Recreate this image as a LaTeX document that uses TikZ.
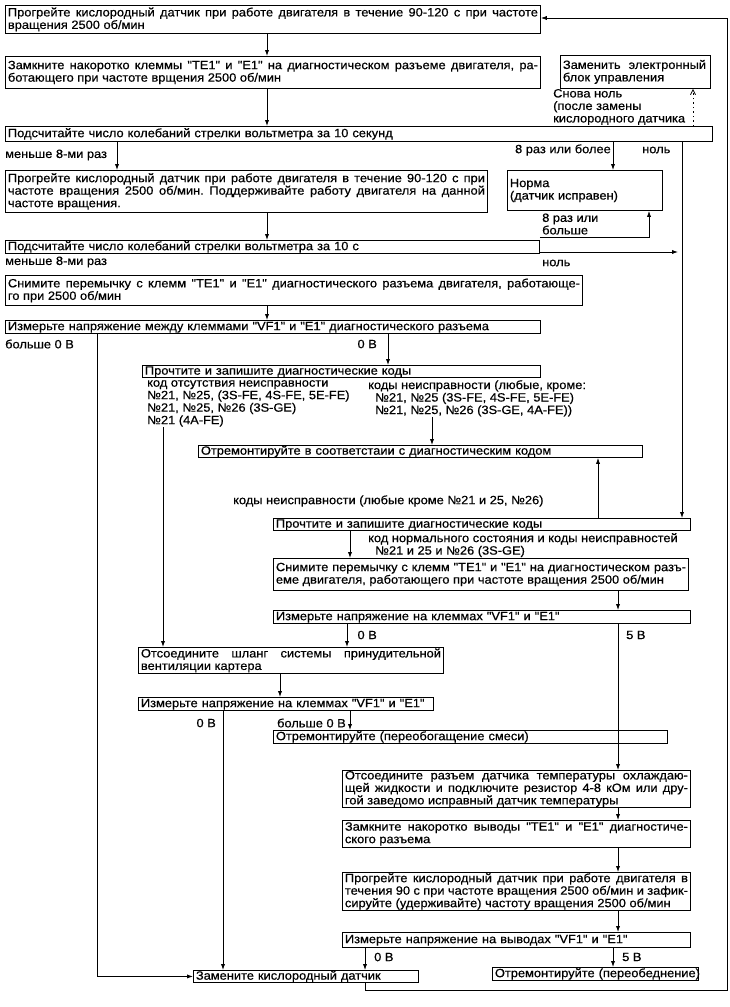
\documentclass[tikz,border=0pt]{standalone}
\usepackage{fontspec}
\setmainfont{Liberation Sans}[FakeStretch=1.07,FakeBold=0.5,Ligatures=TeXOff]
\usetikzlibrary{arrows.meta}
\newcommand\fs{\fontsize{12}{12.5}\selectfont\frenchspacing\hyphenpenalty=10000\exhyphenpenalty=10000}
\begin{document}
\begin{tikzpicture}[x=1pt,y=-1pt,
  box/.style={draw,line width=0.9pt,anchor=north west,inner xsep=2.5pt,inner ysep=0pt,align=left,font=\fs},
  jbox/.style={box,align=justify},
  one/.style={text height=8.8pt,text depth=2.4pt},
  lbl/.style={font=\fs,inner sep=0pt,align=left},
  ln/.style={line width=0.8pt},
  arr/.style={ln,-{Latex[length=6pt,width=4.2pt]}},
  darr/.style={line width=0.8pt,dash pattern=on 1.5pt off 3pt,-{Straight Barb[length=5pt,width=5pt]}}]
\useasboundingbox[fill=white] (0,0) rectangle (730,1007);
% columns
\coordinate (cA) at (267,0);
\coordinate (cB) at (117,0);
\coordinate (cC) at (613,0);
\coordinate (cD) at (682,0);
\coordinate (cE) at (693,0);
\coordinate (cN2) at (649,0);
\coordinate (cF) at (97,0);
\coordinate (cG) at (388,0);
\coordinate (cH) at (163,0);
\coordinate (cI) at (432,0);
\coordinate (cJ) at (598,0);
\coordinate (cK) at (350,0);
\coordinate (cL) at (618,0);
\coordinate (cM) at (347,0);
\coordinate (cN) at (280,0);
\coordinate (cO) at (223,0);
\coordinate (cP) at (350,0);
\coordinate (cQ) at (365,0);
\coordinate (cR) at (613,0);
% boxes
\node[jbox,text width=530pt,minimum width=535pt,minimum height=28pt] (b1) at (5,5)
 {Прогрейте кислородный датчик при работе двигателя в течение 90-120 с при частоте\linebreak вращения 2500 об/мин};
\node[jbox,text width=530pt,minimum width=535pt,minimum height=32pt] (b2) at (5,56)
 {Замкните накоротко клеммы "TE1" и "E1" на диагностическом разъеме двигателя, ра-\linebreak ботающего при частоте врщения 2500 об/мин};
\node[box,text width=145pt,minimum width=150pt,minimum height=33pt] (ecu) at (560,55)
 {Заменить\ \ электронный\\блок управления};
\node[box,one,text width=702pt,minimum width=707pt,minimum height=15pt] (b3) at (5,126)
 {Подсчитайте число колебаний стрелки вольтметра за 10 секунд};
\node[jbox,text width=477pt,minimum width=482pt,minimum height=42pt] (b4) at (5,170)
 {Прогрейте кислородный датчик при работе двигателя в течение 90-120 с при\linebreak частоте вращения 2500 об/мин. Поддерживайте работу двигателя на данной\linebreak частоте вращения.};
\node[box,text width=150pt,minimum width=155pt,minimum height=40pt] (norma) at (507,170)
 {Норма\\(датчик исправен)};
\node[box,one,text width=529pt,minimum width=534pt,minimum height=13pt] (b5) at (5,240)
 {Подсчитайте число колебаний стрелки вольтметра за 10 с};
\node[jbox,text width=572pt,minimum width=577pt,minimum height=30pt] (b6) at (5,275)
 {Снимите перемычку с клемм "TE1" и "E1" диагностического разъема двигателя, работающе-\linebreak го при 2500 об/мин};
\node[box,one,text width=530pt,minimum width=535pt,minimum height=13pt] (b7) at (5,320)
 {Измерьте напряжение между клеммами "VF1" и "E1" диагностического разъема};
\node[box,one,text width=393pt,minimum width=398pt,minimum height=12pt] (b8) at (142,365)
 {Прочтите и запишите диагностические коды};
\node[box,one,text width=439pt,minimum width=444pt,minimum height=12pt] (b9) at (198,445)
 {Отремонтируйте в соответстаии с диагностическим кодом};
\node[box,one,text width=412pt,minimum width=417pt,minimum height=12pt] (b10) at (273,518)
 {Прочтите и запишите диагностические коды};
\node[jbox,text width=410pt,minimum width=415pt,minimum height=32pt] (b11) at (273,558)
 {Снимите перемычку с клемм "TE1" и "E1" на диагностическом разъ-\linebreak еме двигателя, работающего при частоте вращения 2500 об/мин};
\node[box,one,text width=412pt,minimum width=417pt,minimum height=13pt] (b12) at (273,610)
 {Измерьте напряжение на клеммах "VF1" и "E1"};
\node[jbox,text width=300pt,minimum width=305pt,minimum height=26pt] (b13) at (138,647)
 {Отсоедините шланг системы принудительной\linebreak вентиляции картера};
\node[box,one,text width=290pt,minimum width=295pt,minimum height=13pt] (b14) at (138,697)
 {Измерьте напряжение на клеммах "VF1" и "E1"};
\node[box,one,text width=389pt,minimum width=394pt,minimum height=13pt] (b15) at (273,730)
 {Отремонтируйте (переобогащение смеси)};
\node[jbox,text width=343pt,minimum width=348pt,minimum height=37pt] (b16) at (342,770)
 {Отсоедините разъем датчика температуры охлаждаю-\linebreak щей жидкости и подключите резистор 4-8 кОм или дру-\linebreak гой заведомо исправный датчик температуры};
\node[jbox,text width=343pt,minimum width=348pt,minimum height=27pt] (b17) at (342,820)
 {Замкните накоротко выводы "TE1" и "E1" диагностиче-\linebreak ского разъема};
\node[jbox,text width=343pt,minimum width=348pt,minimum height=38pt] (b18) at (342,872)
 {Прогрейте кислородный датчик при работе двигателя в\linebreak течения 90 с при частоте вращения 2500 об/мин и зафик-\linebreak сируйте (удерживайте) частоту вращения 2500 об/мин};
\node[box,one,text width=343pt,minimum width=348pt,minimum height=15pt] (b19) at (342,932)
 {Измерьте напряжение на выводах "VF1" и "E1"};
\node[box,one,text width=220pt,minimum width=225pt,minimum height=12pt] (b20) at (193,970)
 {\mbox{Замените кислородный датчик}};
\node[box,one,text width=201pt,minimum width=206pt,minimum height=13pt] (b21) at (492,967)
 {\mbox{Отремонтируйте (переобеднение)}};
% labels
\node[lbl,anchor=west] (l1) at (5,155) {меньше 8-ми раз};
\node[lbl,anchor=west] (l2) at (553,107) {Снова ноль\\(после замены\\кислородного датчика};
\node[lbl,anchor=east] (l3) at (611,150) {8 раз или более};
\node[lbl,anchor=west] (l4) at (642,150) {ноль};
\node[lbl,anchor=west] (l5) at (542,224) {8 раз или\\больше};
\node[lbl,anchor=west] (l6) at (542,263) {ноль};
\node[lbl,anchor=west] (l7) at (5,262) {меньше 8-ми раз};
\node[lbl,anchor=west] (l8) at (5,344) {больше 0 В};
\node[lbl,anchor=east] (l9) at (377,344) {0 В};
\node[lbl,anchor=north west] (t8l) at (147,380) {код отсутствия неисправности\\№21, №25, (3S-FE, 4S-FE, 5E-FE)\\№21, №25, №26 (3S-GE)\\№21 (4A-FE)};
\node[lbl,anchor=north west] (t8r) at (368,380) {коды неисправности (любые, кроме:\\\hspace*{7pt}№21, №25 (3S-FE, 4S-FE, 5E-FE)\\\hspace*{7pt}№21, №25, №26 (3S-GE, 4A-FE))};
\node[lbl,anchor=west] (l10) at (233,501) {коды неисправности (любые кроме №21 и 25, №26)};
\node[lbl,anchor=north west] (t10) at (368,533) {код нормального состояния и коды неисправностей\\\hspace*{7pt}№21 и 25 и №26 (3S-GE)};
\node[lbl,anchor=east] (l11) at (377,635) {0 В};
\node[lbl,anchor=west] (l12) at (626,635) {5 В};
\node[lbl,anchor=east] (l13) at (216,723) {0 В};
\node[lbl,anchor=east] (l14) at (346,723) {больше 0 В};
\node[lbl,anchor=west] (l15) at (374,957) {0 В};
\node[lbl,anchor=west] (l16) at (622,957) {5 В};
% connectors
\draw[arr] (b1.south -| cA) -- (b2.north -| cA);
\draw[arr] (b2.south -| cA) -- (b3.north -| cA);
\draw[arr] (b3.south -| cB) -- (b4.north -| cB);
\draw[arr] (b3.south -| cC) -- (norma.north -| cC);
\draw[arr] (b3.south -| cD) -- (b10.north -| cD);
\draw[darr] (b3.north -| cE) -- (ecu.south -| cE);
\draw[arr] (b4.south -| cA) -- (b5.north -| cA);
\draw[arr] ([yshift=2.5pt]b5.north east) -| (norma.south -| cN2);
\coordinate (z1) at (678,252);
\draw[arr] (b5.east |- z1) -- (z1);
\draw[arr] (b6.south -| cA) -- (b7.north -| cA);
\draw[arr] (b7.south -| cF) |- (b20.west);
\draw[arr] (b7.south -| cG) -- (b8.north -| cG);
\draw[arr] (t8l.south -| cH) -- (b13.north -| cH);
\draw[arr] (t8r.south -| cI) -- (b9.north -| cI);
\draw[arr] (b10.north -| cJ) -- (b9.south -| cJ);
\draw[arr] (b10.south -| cK) -- (b11.north -| cK);
\draw[arr] (b11.south -| cL) -- (b12.north -| cL);
\draw[arr] (b12.south -| cM) -- (b13.north -| cM);
\draw[arr] (b12.south -| cL) -- (b16.north -| cL);
\draw[arr] (b13.south -| cN) -- (b14.north -| cN);
\draw[arr] (b14.south -| cO) -- (b20.north -| cO);
\draw[arr] (b14.south -| cP) -- (b15.north -| cP);
\draw[arr] (b16.south -| cL) -- (b17.north -| cL);
\draw[arr] (b17.south -| cL) -- (b18.north -| cL);
\draw[arr] (b18.south -| cL) -- (b19.north -| cL);
\draw[arr] (b19.south -| cQ) -- (b20.north -| cQ);
\draw[arr] (b19.south -| cR) -- (b21.north -| cR);
\coordinate (z2) at (727,990);
\coordinate (z3) at (727,18);
\draw[arr] (b20.south -| cQ) |- (z2) -- (z3) -- (b1.east |- z3);
\end{tikzpicture}
\end{document}
